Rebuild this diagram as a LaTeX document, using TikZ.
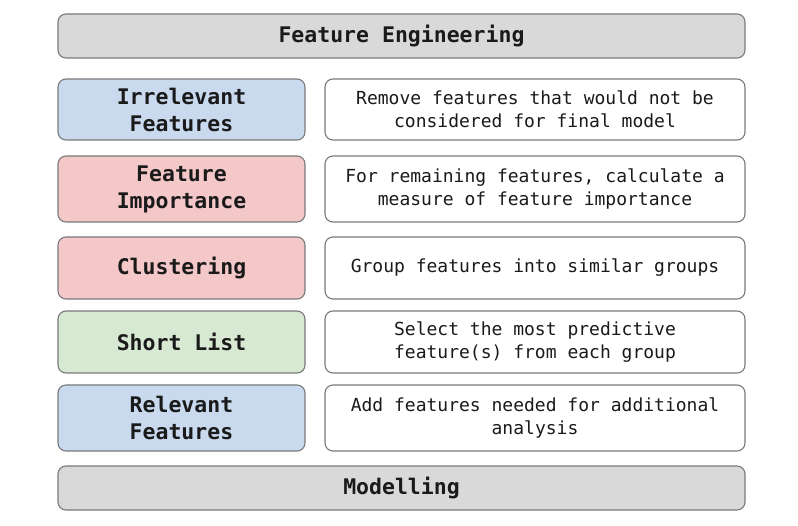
\documentclass[tikz,border=0pt]{standalone}
\usepackage{fontspec}
\setmonofont{DejaVu Sans Mono}
\definecolor{bordc}{HTML}{7A7A7A}
\definecolor{grayf}{HTML}{D9D9D9}
\definecolor{bluef}{HTML}{C9DAEF}
\definecolor{redf}{HTML}{F4C7C8}
\definecolor{greenf}{HTML}{D7E9D2}
\definecolor{txt}{HTML}{1A1A1A}
\tikzset{
  box/.style={draw=bordc, line width=1.1pt, rounded corners=8pt, inner sep=0pt, align=center, text=txt},
  lab/.style={box, minimum width=247pt, font=\ttfamily\bfseries\fontsize{21.5}{27}\selectfont},
  desc/.style={box, fill=white, minimum width=420pt, font=\ttfamily\fontsize{18}{23}\selectfont},
  wide/.style={box, fill=grayf, minimum width=687pt, minimum height=44pt, font=\ttfamily\bfseries\fontsize{21.5}{27}\selectfont},
}
\begin{document}
\begin{tikzpicture}[x=1pt,y=-1pt]
\path[use as bounding box] (0,0) rectangle (798,526);
\node[wide] (top) at (401.5,36) {Feature Engineering};
% row 1
\node[lab, fill=bluef, minimum height=61pt] (l1) at (181.5,109.5) {Irrelevant\\Features};
\node[desc, minimum height=61pt] (d1) at (535,109.5) {Remove features that would not be\\considered for final model};
% row 2
\node[lab, fill=redf, minimum height=66pt] (l2) at (181.5,189) {Feature\\Importance};
\node[desc, minimum height=66pt] (d2) at (535,189) {For remaining features, calculate a\\measure of feature importance};
% row 3
\node[lab, fill=redf, minimum height=62pt] (l3) at (181.5,268) {Clustering};
\node[desc, minimum height=62pt] (d3) at (535,268) {Group features into similar groups};
% row 4
\node[lab, fill=greenf, minimum height=62pt] (l4) at (181.5,342) {Short List};
\node[desc, minimum height=62pt] (d4) at (535,342) {Select the most predictive\\feature(s) from each group};
% row 5
\node[lab, fill=bluef, minimum height=66pt] (l5) at (181.5,418) {Relevant\\Features};
\node[desc, minimum height=66pt] (d5) at (535,418) {Add features needed for additional\\analysis};
\node[wide] (bot) at (401.5,488) {Modelling};
\end{tikzpicture}
\end{document}
